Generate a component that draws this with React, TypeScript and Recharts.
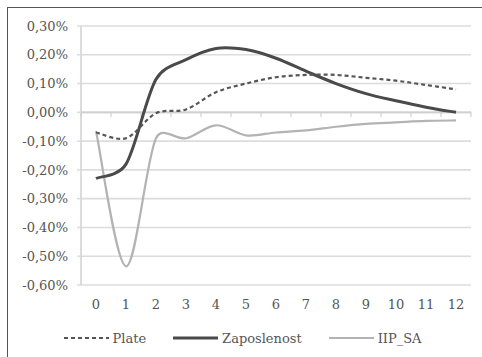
import React from "react";
import {
  LineChart,
  Line,
  XAxis,
  YAxis,
  CartesianGrid,
  ReferenceLine,
  Legend,
} from "recharts";

// Impulse responses (in %) over 12 periods
const periods = [0, 1, 2, 3, 4, 5, 6, 7, 8, 9, 10, 11, 12];
const plate = [-0.07, -0.09, -0.003, 0.01, 0.07, 0.1, 0.122, 0.13, 0.13, 0.12, 0.11, 0.095, 0.08];
const zaposlenost = [-0.23, -0.18, 0.115, 0.183, 0.222, 0.218, 0.188, 0.143, 0.1, 0.065, 0.04, 0.018, 0.0];
const iipSa = [-0.065, -0.535, -0.09, -0.09, -0.045, -0.08, -0.07, -0.063, -0.05, -0.04, -0.035, -0.03, -0.028];
const yTicks = [0.3, 0.2, 0.1, 0.0, -0.1, -0.2, -0.3, -0.4, -0.5, -0.6];
// category boundaries where the small tick marks sit on the zero line
const boundaries = [-0.5, 0.5, 1.5, 2.5, 3.5, 4.5, 5.5, 6.5, 7.5, 8.5, 9.5, 10.5, 11.5, 12.5];

const data = periods.map((t, i) => ({
  t,
  Plate: plate[i],
  Zaposlenost: zaposlenost[i],
  IIP_SA: iipSa[i],
}));

const FONT = "'DejaVu Serif', serif";
const TEXT = "#555";

const fmtPct = (v: number) => v.toFixed(2).replace(".", ",") + "%";

// Smoothed line: Bézier spline whose tangents are softly weighted by the
// lengths of the neighbouring segments (limits overshoot next to long jumps)
function smoothCurve(context: any) {
  let pts: [number, number][] = [];
  const dist = (a: [number, number], b: [number, number]) =>
    Math.hypot(b[0] - a[0], b[1] - a[1]);
  const weight = (near: number, far: number) =>
    near + far > 0 ? Math.min(1, Math.sqrt((2 * near) / (near + far))) / 6 : 0;
  return {
    areaStart() {},
    areaEnd() {},
    lineStart() {
      pts = [];
    },
    point(x: number, y: number) {
      pts.push([+x, +y]);
    },
    lineEnd() {
      if (!pts.length) return;
      context.moveTo(pts[0][0], pts[0][1]);
      for (let i = 0; i < pts.length - 1; i++) {
        const p0 = pts[i - 1] || pts[i];
        const p1 = pts[i];
        const p2 = pts[i + 1];
        const p3 = pts[i + 2] || p2;
        const d01 = dist(p0, p1);
        const d12 = dist(p1, p2);
        const d23 = dist(p2, p3);
        const f1 = weight(d12, d01);
        const f2 = weight(d12, d23);
        const c1x = p1[0] + (p2[0] - p0[0]) * f1;
        const c1y = p1[1] + (p2[1] - p0[1]) * f1;
        const c2x = p2[0] - (p3[0] - p1[0]) * f2;
        const c2y = p2[1] - (p3[1] - p1[1]) * f2;
        context.bezierCurveTo(c1x, c1y, c2x, c2y, p2[0], p2[1]);
      }
    },
  };
}

const legendItems = [
  { name: "Plate", color: "#555", dash: "4 3", width: 2.2 },
  { name: "Zaposlenost", color: "#4a4a4a", dash: undefined, width: 3 },
  { name: "IIP_SA", color: "#b3b3b3", dash: undefined, width: 2.2 },
];

const LegendContent = () => (
  <div
    style={{
      display: "flex",
      justifyContent: "center",
      alignItems: "center",
      height: 22,
      fontFamily: FONT,
      fontSize: 13,
      color: TEXT,
      gap: 27,
      paddingLeft: 6,
    }}
  >
    {legendItems.map((it) => (
      <div key={it.name} style={{ display: "flex", alignItems: "center" }}>
        <svg width={45} height={10} style={{ marginRight: 4 }}>
          <line
            x1={0}
            y1={5}
            x2={45}
            y2={5}
            stroke={it.color}
            strokeWidth={it.width}
            strokeDasharray={it.dash}
          />
        </svg>
        <span>{it.name}</span>
      </div>
    ))}
  </div>
);

export default function App() {
  return (
    <div
      style={{
        position: "absolute",
        left: 7,
        top: 7,
        width: 480,
        height: 360,
        borderTop: "1.5px solid #555",
        borderLeft: "1.5px solid #555",
        background: "#fff",
      }}
    >
      <LineChart
        width={478}
        height={350}
        data={data}
        margin={{ top: 18, right: 15, left: 0, bottom: 9 }}
        style={{ position: "absolute", left: 0, top: 0 }}
      >
        <CartesianGrid vertical={false} stroke="#dcdcdc" strokeWidth={1.6} />
        <XAxis
          dataKey="t"
          type="number"
          domain={[-0.5, 12.5]}
          ticks={periods}
          height={42}
          axisLine={false}
          tickLine={false}
          tickSize={0}
          tickMargin={15}
          interval={0}
          tick={{ fontFamily: FONT, fontSize: 13, fill: TEXT }}
        />
        <YAxis
          width={73}
          domain={[-0.6, 0.3]}
          ticks={yTicks}
          tickFormatter={fmtPct}
          axisLine={{ stroke: "#d0d0d0", strokeWidth: 1.5 }}
          tickLine={{ stroke: "#dcdcdc", strokeWidth: 1.5 }}
          tickSize={4}
          tickMargin={9}
          tick={{ fontFamily: FONT, fontSize: 13, fill: TEXT }}
        />
        <ReferenceLine y={0} stroke="#cfcfcf" strokeWidth={1.6} />
        {boundaries.map((b) => (
          <ReferenceLine
            key={b}
            segment={[
              { x: b, y: 0 },
              { x: b, y: -0.016 },
            ]}
            stroke="#d0d0d0"
            strokeWidth={1.2}
          />
        ))}
        <Legend verticalAlign="bottom" height={22} content={<LegendContent />} />
        <Line
          type={smoothCurve as any}
          dataKey="IIP_SA"
          stroke="#b3b3b3"
          strokeWidth={2.2}
          dot={false}
          isAnimationActive={false}
        />
        <Line
          type={smoothCurve as any}
          dataKey="Zaposlenost"
          stroke="#4a4a4a"
          strokeWidth={3}
          dot={false}
          isAnimationActive={false}
        />
        <Line
          type={smoothCurve as any}
          dataKey="Plate"
          stroke="#555"
          strokeWidth={2.2}
          strokeDasharray="4 3"
          dot={false}
          isAnimationActive={false}
        />
      </LineChart>
    </div>
  );
}
